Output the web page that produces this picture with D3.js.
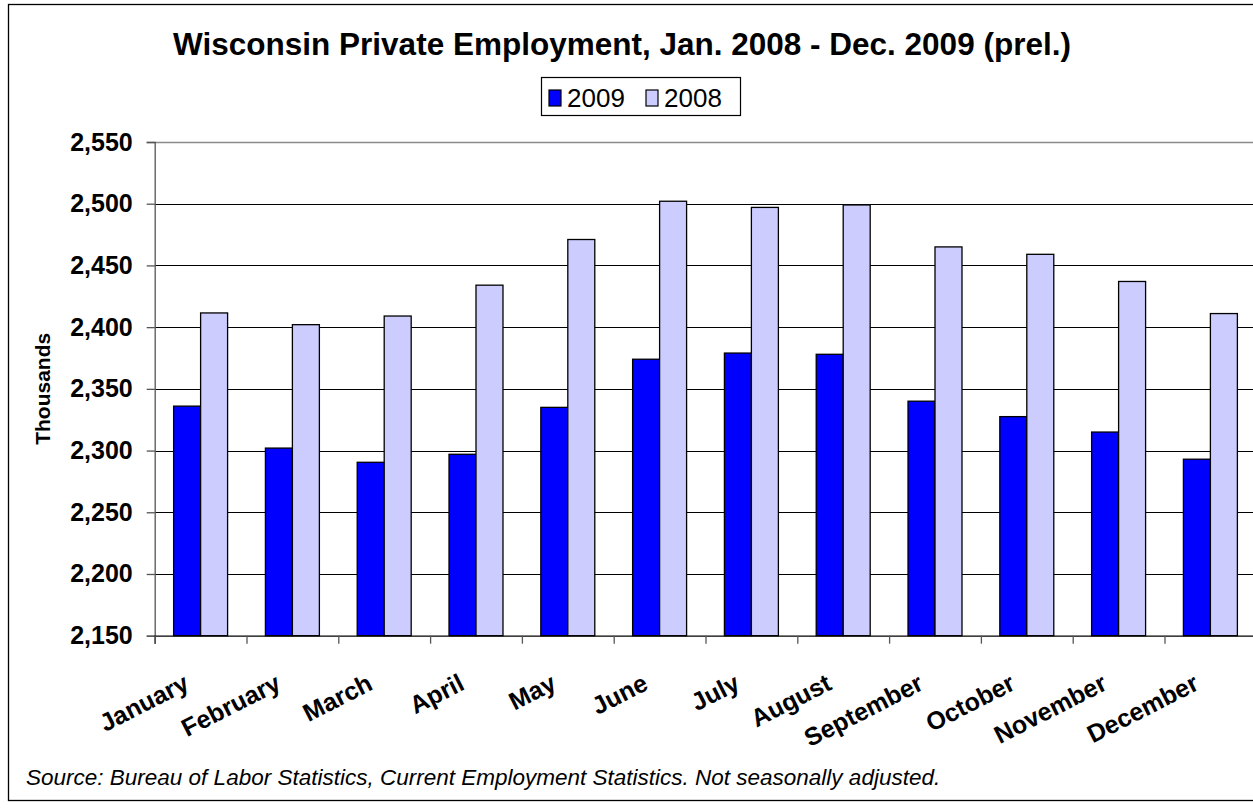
<!DOCTYPE html>
<html>
<head>
<meta charset="utf-8">
<script src="https://cdn.jsdelivr.net/npm/d3@7"></script>
<style>
  html, body { margin: 0; padding: 0; background: #fff; }
  svg { display: block; }
</style>
</head>
<body>
<svg id="chart" width="1253" height="812"></svg>
<script>
const months = ["January","February","March","April","May","June","July","August","September","October","November","December"];
const seriesNames = ["2009","2008"];
const values2009 = [2336, 2302, 2290.5, 2297, 2335, 2374, 2379, 2378, 2340, 2327.5, 2315, 2293];
const values2008 = [2411.5, 2402, 2409, 2434, 2471, 2502, 2497, 2499, 2465, 2459, 2437, 2411];
const yTicks = [2150, 2200, 2250, 2300, 2350, 2400, 2450, 2500, 2550];
const colors = {"2009": "#0000FF", "2008": "#CCCCFF"};
const titleText = "Wisconsin Private Employment, Jan. 2008 - Dec. 2009 (prel.)";
const yAxisTitle = "Thousands";
const sourceText = "Source: Bureau of Labor Statistics, Current Employment Statistics. Not seasonally adjusted.";

const svg = d3.select("#chart");
const font = "Arial, 'Liberation Sans', Helvetica, sans-serif";

const pLeft = 154.7, pRight = 1256.3, pTop = 142, pBottom = 635.7;

// outer frame
svg.append("rect").attr("x", 8.5).attr("y", 4.5).attr("width", 1260).attr("height", 796)
  .attr("fill", "none").attr("stroke", "#000").attr("stroke-width", 1.3);

const x0 = d3.scaleBand().domain(months).range([pLeft, pRight]).paddingInner(0.412).paddingOuter(0.206);
const x1 = d3.scaleBand().domain(seriesNames).range([0, x0.bandwidth()]);
const y = d3.scaleLinear().domain([2150, 2550]).range([pBottom, pTop]);

// gridlines
svg.append("g").selectAll("line").data(yTicks.filter(t => t > 2150 && t < 2550)).join("line")
  .attr("x1", pLeft).attr("x2", pRight)
  .attr("y1", d => Math.round(y(d)) + 0.5).attr("y2", d => Math.round(y(d)) + 0.5)
  .attr("stroke", "#000").attr("stroke-width", 1);
// top border of plot
svg.append("line").attr("x1", pLeft).attr("x2", pRight)
  .attr("y1", Math.round(y(2550)) + 0.5).attr("y2", Math.round(y(2550)) + 0.5)
  .attr("stroke", "#8a8a8a").attr("stroke-width", 1.5);

// bars
const data = months.map((m, i) => ({month: m, vals: [{k: "2009", v: values2009[i]}, {k: "2008", v: values2008[i]}]}));
const groups = svg.append("g").selectAll("g").data(data).join("g")
  .attr("transform", d => `translate(${x0(d.month)},0)`);
groups.selectAll("rect").data(d => d.vals).join("rect")
  .attr("x", d => x1(d.k))
  .attr("y", d => y(d.v))
  .attr("width", x1.bandwidth())
  .attr("height", d => y(2150) - y(d.v))
  .attr("fill", d => colors[d.k])
  .attr("stroke", "#000").attr("stroke-width", 1.3);

// y axis
const yAxis = d3.axisLeft(y).tickValues(yTicks).tickSize(8).tickPadding(14)
  .tickFormat(d3.format(","));
const gy = svg.append("g").attr("transform", `translate(${pLeft},0)`).call(yAxis);
gy.select(".domain").attr("stroke", "#555").attr("stroke-width", 1.3);
gy.selectAll(".tick line").attr("stroke", "#555").attr("stroke-width", 1.3);
gy.selectAll(".tick text").attr("font-family", font).attr("font-size", 25).attr("font-weight", "bold").attr("fill", "#000");

// x axis
const xAxis = d3.axisBottom(d3.scaleLinear().domain([0, months.length]).range([pLeft, pRight]))
  .tickValues(d3.range(months.length + 1)).tickSize(8).tickFormat("");
const gx = svg.append("g").attr("transform", `translate(0,${pBottom})`).call(xAxis);
gx.select(".domain").attr("stroke", "#000").attr("stroke-width", 1.3);
gx.selectAll(".tick line").attr("stroke", "#555").attr("stroke-width", 1.3);

// x labels
svg.append("g").selectAll("text").data(months).join("text")
  .attr("transform", d => `translate(${x0(d) + x0.bandwidth() / 2 - 10},${pBottom + 53}) rotate(-27)`)
  .attr("text-anchor", "end")
  .attr("font-family", font).attr("font-size", 25).attr("font-weight", "bold")
  .text(d => d);

// y title
svg.append("text")
  .attr("transform", `translate(50,${(pTop + pBottom) / 2}) rotate(-90)`)
  .attr("text-anchor", "middle")
  .attr("font-family", font).attr("font-size", 21).attr("font-weight", "bold")
  .text(yAxisTitle);

// title
svg.append("text").attr("x", 622).attr("y", 55).attr("text-anchor", "middle")
  .attr("font-family", font).attr("font-size", 31.5).attr("font-weight", "bold")
  .text(titleText);

// legend
const lg = svg.append("g");
lg.append("rect").attr("x", 541.5).attr("y", 77.5).attr("width", 199).attr("height", 38)
  .attr("fill", "#fff").attr("stroke", "#000").attr("stroke-width", 1.2);
const legendItems = [{k: "2009", sx: 549, tx: 567}, {k: "2008", sx: 646, tx: 664}];
lg.selectAll("rect.sw").data(legendItems).join("rect").attr("class", "sw")
  .attr("x", d => d.sx).attr("y", 90).attr("width", 12).attr("height", 16)
  .attr("fill", d => colors[d.k]).attr("stroke", "#000").attr("stroke-width", 1.2);
lg.selectAll("text").data(legendItems).join("text")
  .attr("x", d => d.tx).attr("y", 107)
  .attr("font-family", font).attr("font-size", 26)
  .text(d => d.k);

// source
svg.append("text").attr("x", 26).attr("y", 785)
  .attr("font-family", font).attr("font-size", 22.5).attr("font-style", "italic")
  .text(sourceText);
</script>
</body>
</html>
